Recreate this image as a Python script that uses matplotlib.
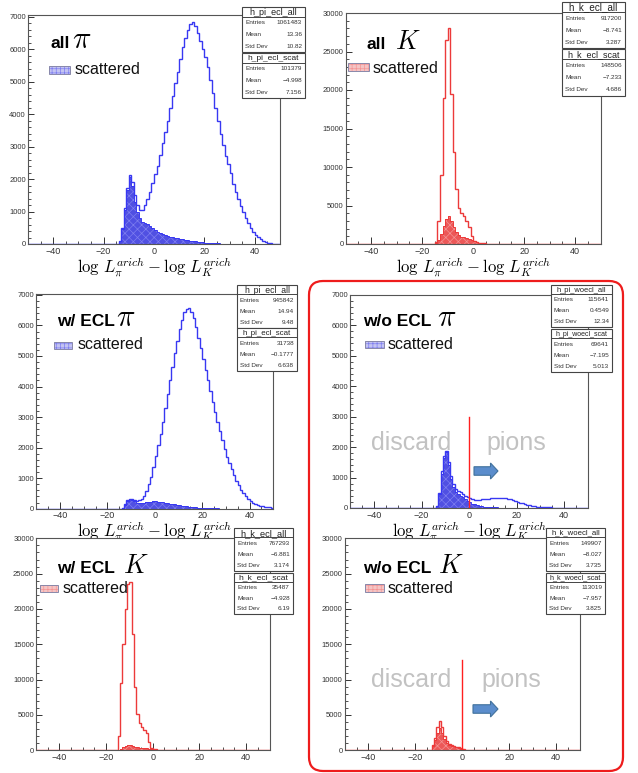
import numpy as np
import matplotlib
matplotlib.use('Agg')
import matplotlib.pyplot as plt
from matplotlib.patches import Rectangle, FancyBboxPatch, FancyArrow
from matplotlib.lines import Line2D
from matplotlib.transforms import Affine2D
from matplotlib.ticker import MultipleLocator

plt.rcParams['font.family'] = ['Liberation Sans', 'DejaVu Sans']
plt.rcParams['mathtext.fontset'] = 'cm'
plt.rcParams['hatch.linewidth'] = 0.5

# ---- data: 1-unit bins of log L_pi - log L_K, each list starts at bin [-15, -14)
edges = np.arange(-50, 51, 1)
start = -15

pi_all = [0, 100, 500, 1100, 1720, 2130, 1900, 1500, 1200, 1060, 1060, 1200, 1380, 1600,
          1880, 2150, 2400, 2750, 3100, 3450, 3800, 4200, 4550, 4950, 5300, 5700, 6050,
          6350, 6600, 6780, 6820, 6700, 6500, 6250, 6000, 5750, 5450, 5050, 4650, 4200,
          3800, 3400, 3050, 2700, 2450, 2200, 1850, 1600, 1400, 1180, 980, 800, 640, 500,
          380, 290, 210, 150, 100, 65, 40, 25, 15, 8, 4]
pi_scat = [0, 80, 450, 1050, 1650, 2070, 1800, 1300, 1000, 800, 680, 640, 620, 560, 480,
           420, 380, 340, 300, 270, 245, 225, 205, 185, 170, 155, 140, 125, 112, 100, 90,
           80, 70, 60, 52, 45, 38, 32, 27, 22, 18, 15, 12, 10, 8, 6, 5, 4, 3, 2]

k_all = [300, 3000, 9000, 19000, 26500, 28100, 19500, 12000, 7200, 4700, 4000, 3600, 3000,
         2200, 1000, 400, 250, 160, 110, 75, 55, 38, 27, 17, 9]
k_scat = [100, 500, 1300, 2300, 3300, 3700, 3000, 2200, 1600, 1150, 950, 850, 750, 620, 480,
          330, 220, 150, 100, 70, 50, 35, 25, 15, 8]

pi_ecl_all = [0, 30, 150, 280, 330, 320, 290, 260, 270, 320, 420, 580, 800, 1050, 1380, 1720,
              2080, 2450, 2850, 3300, 3750, 4200, 4650, 5100, 5500, 5870, 6180, 6430, 6550,
              6580, 6450, 6250, 5950, 5600, 5250, 4900, 4550, 4200, 3850, 3500, 3150, 2850,
              2550, 2250, 1950, 1700, 1500, 1300, 1100, 920, 760, 620, 500, 400, 310, 240,
              180, 140, 110, 90, 75, 60, 50, 40, 30]
pi_ecl_scat = [0, 20, 130, 260, 310, 300, 250, 200, 180, 180, 195, 210, 225, 235, 240, 240,
               235, 225, 215, 200, 185, 170, 155, 140, 125, 112, 100, 88, 78, 68, 60, 52, 45,
               38, 32, 27, 22, 18, 15, 12, 10, 8, 6, 5, 4]

pi_woecl_all = [0, 80, 500, 1200, 1700, 1880, 1500, 1050, 780, 620, 560, 520, 470, 410, 360,
                320, 290, 270, 265, 270, 280, 290, 300, 310, 320, 325, 330, 335, 335, 330,
                320, 305, 285, 260, 235, 205, 175, 150, 125, 105, 85, 70, 55, 45, 37, 30, 25,
                22, 20, 18, 16, 14, 12, 10, 6, 3]
pi_woecl_scat = [0, 70, 450, 1100, 1650, 1850, 1400, 950, 680, 530, 460, 410, 350, 290, 235,
                 185, 145, 115, 90, 72, 58, 48, 40, 34, 28, 23, 19, 15, 12, 9, 7, 5, 4, 3]

k_ecl_all = [2000, 9500, 15000, 20000, 23500, 23800, 16500, 9000, 5200, 3800, 3300, 2900,
             2400, 1200, 350, 200, 140, 100, 70, 50, 32, 22, 13, 7]
k_ecl_scat = [50, 200, 420, 600, 700, 700, 620, 520, 430, 370, 330, 300, 270, 240, 200, 160,
              120, 90, 65, 45, 30, 20, 12, 6]

k_woecl_all = [0, 100, 700, 1800, 3300, 4150, 3300, 2000, 1250, 950, 780, 650, 530, 420, 300,
               180, 100, 60, 35, 20, 10]
k_woecl_scat = [0, 80, 550, 1400, 2500, 3100, 2500, 1550, 1000, 780, 650, 540, 430, 320, 200,
                110, 60, 35, 20, 12, 6]

stats = {
    'p1': [('h_pi_ecl_all', '1061483', '13.36', '10.82'),
           ('h_pi_ecl_scat', '101379', '\u22124.998', '7.156')],
    'p2': [('h_k_ecl_all', '917200', '\u22128.741', '3.287'),
           ('h_k_ecl_scat', '148506', '\u22127.233', '4.686')],
    'p3': [('h_pi_ecl_all', '945842', '14.94', '9.48'),
           ('h_pi_ecl_scat', '31738', '\u22120.1777', '6.638')],
    'p4': [('h_pi_woecl_all', '115641', '0.4549', '12.34'),
           ('h_pi_woecl_scat', '69641', '\u22127.195', '5.013')],
    'p5': [('h_k_ecl_all', '767293', '\u22126.881', '3.174'),
           ('h_k_ecl_scat', '35487', '\u22124.928', '6.19')],
    'p6': [('h_k_woecl_all', '149907', '\u22128.027', '3.735'),
           ('h_k_woecl_scat', '113019', '\u22127.957', '3.825')],
}

cut_x = 0
cut_top_pi = 3000
cut_top_k = 12800

BLUE_LINE = '#3838f2'
BLUE_FILL = '#5050e2'
BLUE_HATCH = '#7e7ef0'
RED_LINE = '#ec3a3a'
RED_FILL = '#ec5858'
RED_HATCH = '#f49494'

W, H = 638, 773
fig = plt.figure(figsize=(W / 100, H / 100), dpi=100)
fig.patch.set_facecolor('white')
# pixel coordinates (origin top-left) -> figure
px = Affine2D().scale(1 / W, -1 / H).translate(0, 1) + fig.transFigure

XLABEL = r'$\log\, L_{\pi}^{arich} - \log\, L_{K}^{arich}$'


def full(vals):
    arr = np.zeros(len(edges) - 1)
    i = start - edges[0]
    arr[i:i + len(vals)] = vals
    return arr


def add_axes_px(x0, y0, x1, y1):
    return fig.add_axes([x0 / W, 1 - y1 / H, (x1 - x0) / W, (y1 - y0) / H])


def setup(ax, ymax, major, minor):
    ax.set_xlim(-50, 50)
    ax.set_ylim(0, ymax)
    ax.xaxis.set_major_locator(MultipleLocator(20))
    ax.xaxis.set_minor_locator(MultipleLocator(5))
    ax.yaxis.set_major_locator(MultipleLocator(major))
    ax.yaxis.set_minor_locator(MultipleLocator(minor))
    ax.tick_params(which='both', direction='in', colors='#333333')
    ax.tick_params(axis='x', which='major', length=5, width=0.7, labelsize=6.5, pad=2)
    ax.tick_params(axis='x', which='minor', length=2.5, width=0.6)
    ax.tick_params(axis='y', which='major', length=4, width=0.7, labelsize=5.5, pad=1.5)
    ax.tick_params(axis='y', which='minor', length=2, width=0.6)
    for s in ax.spines.values():
        s.set_color('#555555')
        s.set_linewidth(0.8)


def draw_hist(ax, total, scat, line, fill, hatch_c):
    ax.stairs(full(scat), edges, fill=True, facecolor=fill, edgecolor=hatch_c,
              hatch='xxxx', linewidth=0, zorder=2)
    ax.stairs(full(scat), edges, color=line, linewidth=0.7, zorder=2.5)
    ax.stairs(full(total), edges, color=line, linewidth=1.0, zorder=3)


def stat_box(x0, y0, x1, y1, title, entries, mean, std):
    h = y1 - y0
    ht = h * 0.22
    hr = (h - ht) / 3
    w = x1 - x0
    fig.add_artist(Rectangle((x0, y0), w, h, transform=px, facecolor='white',
                             edgecolor='#444444', linewidth=0.8))
    fig.add_artist(Line2D([x0, x1], [y0 + ht, y0 + ht], transform=px,
                          color='#444444', linewidth=0.7))
    tsize = min(7.6, w * 0.86 / (len(title) * 0.5) * 0.72)
    fig.text((x0 + w / 2) / W, 1 - (y0 + ht / 2 + 0.5) / H, title,
             ha='center', va='center', fontsize=tsize, color='#222222')
    for i, (lab, val) in enumerate([('Entries', entries), ('Mean', mean), ('Std Dev', std)]):
        yc = y0 + ht + (i + 0.5) * hr
        fig.text((x0 + 3) / W, 1 - yc / H, lab, ha='left', va='center', fontsize=4.6,
                 color='#333333')
        fig.text((x1 - 3) / W, 1 - yc / H, val, ha='right', va='center', fontsize=4.6,
                 color='#333333')


def label(x, y, bold, sym_x, sym, sym_size):
    fig.text(x / W, 1 - y / H, bold, fontsize=12.5, fontweight='bold', va='baseline',
             ha='left', color='black')
    fig.text(sym_x / W, 1 - y / H, sym, fontsize=sym_size, va='baseline', ha='left',
             color='black')


def legend(x0, y0, x1, y1, tx, ty, face, hatch_c):
    fig.add_artist(Rectangle((x0, y0), x1 - x0, y1 - y0, transform=px, facecolor=face,
                             edgecolor=hatch_c, hatch='++++', linewidth=0))
    fig.add_artist(Rectangle((x0, y0), x1 - x0, y1 - y0, transform=px, fill=False,
                             edgecolor='#8888aa', linewidth=0.7))
    fig.text(tx / W, 1 - ty / H, 'scattered', fontsize=11.5, va='baseline', ha='left',
             color='#111111')


def arrow(x0, x1, y):
    fig.add_artist(FancyArrow(x0, y, x1 - x0, 0, width=8.5, head_width=16, head_length=7.5,
                              length_includes_head=True, transform=px,
                              facecolor='#5b8dcc', edgecolor='#41719c', linewidth=0.8))


def gray_text(x, y, s):
    fig.text(x / W, 1 - y / H, s, fontsize=18, color='#c2c2c2', va='baseline', ha='left')


# ---- top row
ax1 = add_axes_px(28, 15, 280, 244)
setup(ax1, 7050, 1000, 200)
draw_hist(ax1, pi_all, pi_scat, BLUE_LINE, BLUE_FILL, BLUE_HATCH)
ax1.set_xlabel(XLABEL, fontsize=12, labelpad=0)

ax2 = add_axes_px(345.6, 13, 600.6, 244)
setup(ax2, 30000, 5000, 1000)
draw_hist(ax2, k_all, k_scat, RED_LINE, RED_FILL, RED_HATCH)
ax2.set_xlabel(XLABEL, fontsize=12, labelpad=0)

# ---- middle row
ax3 = add_axes_px(36.3, 294, 273.3, 508.7)
setup(ax3, 7030, 1000, 200)
draw_hist(ax3, pi_ecl_all, pi_ecl_scat, BLUE_LINE, BLUE_FILL, BLUE_HATCH)
ax3.set_xlabel(XLABEL, fontsize=12, labelpad=-0.5)

ax4 = add_axes_px(350.25, 294.7, 587.75, 508)
setup(ax4, 7000, 1000, 200)
draw_hist(ax4, pi_woecl_all, pi_woecl_scat, BLUE_LINE, BLUE_FILL, BLUE_HATCH)
ax4.plot([cut_x, cut_x], [0, cut_top_pi], color='#ff2020', linewidth=1.0, zorder=4)
ax4.set_xlabel(XLABEL, fontsize=12, labelpad=-0.5)

# ---- bottom row
ax5 = add_axes_px(36, 538.3, 269.5, 750.3)
setup(ax5, 30000, 5000, 1000)
draw_hist(ax5, k_ecl_all, k_ecl_scat, RED_LINE, RED_FILL, RED_HATCH)

ax6 = add_axes_px(344.8, 538.3, 579.8, 750.3)
setup(ax6, 30000, 5000, 1000)
draw_hist(ax6, k_woecl_all, k_woecl_scat, RED_LINE, RED_FILL, RED_HATCH)
ax6.plot([cut_x, cut_x], [0, cut_top_k], color='#ff2020', linewidth=1.0, zorder=4)

# ---- stat boxes
boxes = {
    'p1': [(242, 7, 305, 52), (242, 53, 305, 98)],
    'p2': [(562, 2, 625, 48), (562, 49, 625, 96)],
    'p3': [(237, 285, 297, 328), (237, 328, 297, 371)],
    'p4': [(551, 285, 612, 327), (551, 329, 612, 372)],
    'p5': [(234, 528, 293, 571), (234, 573, 293, 614)],
    'p6': [(546, 528, 605, 571), (546, 573, 605, 614)],
}
for key, rects in boxes.items():
    for r, s in zip(rects, stats[key]):
        stat_box(*r, *s)

# ---- panel labels
label(50, 48, 'all', 72, r'$\pi$', 22)
legend(49, 66, 70, 74, 75, 74, '#c4c4f2', BLUE_HATCH)
label(367, 49, 'all', 395, r'$K$', 19)
legend(348, 63, 369, 71, 373, 72.7, '#f4c4c4', RED_HATCH)
label(57, 326, 'w/ ECL', 116, r'$\pi$', 22)
legend(54, 342, 72, 349, 78, 349, '#c4c4f2', BLUE_HATCH)
label(363, 326, 'w/o ECL', 437, r'$\pi$', 22)
legend(365, 341, 384, 348, 388, 349, '#c4c4f2', BLUE_HATCH)
label(57, 573, 'w/ ECL', 123, r'$K$', 19)
legend(40, 585, 58, 592, 63, 592.7, '#f4c4c4', RED_HATCH)
label(363, 573, 'w/o ECL', 438, r'$K$', 19)
legend(365, 584, 384, 592, 388, 592.7, '#f4c4c4', RED_HATCH)

# ---- annotations in the w/o ECL panels
gray_text(371, 450, 'discard')
gray_text(486, 450, 'pions')
arrow(474, 498, 471)
gray_text(371, 687, 'discard')
gray_text(481, 687, 'pions')
arrow(473, 498, 709)

fig.add_artist(FancyBboxPatch((309, 281), 314, 490, boxstyle='round,pad=0,rounding_size=14',
                              transform=px, fill=False, edgecolor='#ee1c1c', linewidth=1.6))

fig.savefig('out.png', dpi=100, facecolor='white')
